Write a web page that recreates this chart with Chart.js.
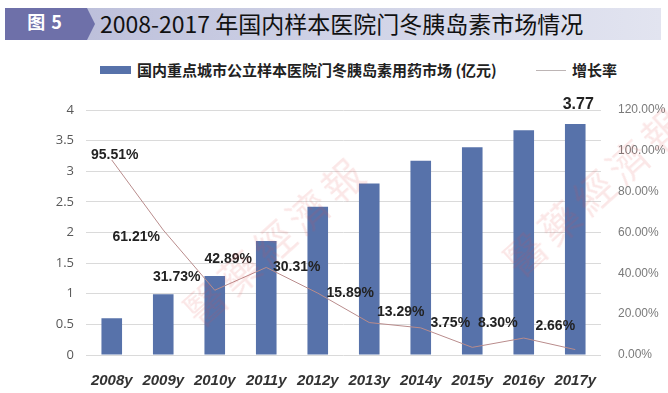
<!DOCTYPE html>
<html><head><meta charset="utf-8">
<script src="https://cdn.jsdelivr.net/npm/chart.js@4"></script>
<style>
body{margin:0;width:668px;height:393px;background:#fff;overflow:hidden;position:relative;font-family:"Liberation Sans",Arial,sans-serif}
#banner{position:absolute;left:5px;top:8px;width:656px;height:32px;background:linear-gradient(90deg,#b7bad7 0%,#cfd2e6 50%,#e2e4f0 100%)}
#tag{position:absolute;left:5px;top:8px;width:90px;height:32px;background:#6e70a9;clip-path:polygon(0 0,82px 0,90px 16px,82px 32px,0 32px)}
#tagtxt{position:absolute;left:5px;top:8px;width:80px;height:32px;line-height:32px;text-align:center;color:#fff;font:bold 18px "Noto Sans CJK SC",sans-serif;letter-spacing:1px}
#title{position:absolute;left:100px;top:6px;height:36px;line-height:36px;font:23px "Noto Sans CJK SC",sans-serif;color:#111;white-space:nowrap}
#legend{position:absolute;left:0;top:60px;width:668px;height:20px;font:bold 15px "Noto Sans CJK SC",sans-serif;color:#222}
.lg{position:absolute;top:0;height:20px;line-height:20px;white-space:nowrap}
#box{position:absolute;left:100px;top:6px;width:31px;height:8px;background:#5772aa}
#lline{position:absolute;left:536px;top:10px;width:30px;height:1px;background:#bdb5b5}
#wrap{position:absolute;left:0;top:90px;width:668px;height:303px}
.wm{position:absolute;font:40px "Noto Sans CJK TC",sans-serif;color:rgba(222,70,70,0.13);white-space:nowrap;transform-origin:center;pointer-events:none;letter-spacing:6px}
</style></head>
<body>
<div id="banner"></div>
<div id="tag"></div>
<div id="tagtxt">图 5</div>
<div id="title">2008-2017 年国内样本医院门冬胰岛素市场情况</div>
<div id="legend">
  <div id="box"></div><div class="lg" id="lg1" style="left:137px"></div>
  <div id="lline"></div><div class="lg" id="lg2" style="left:572px"></div>
</div>
<div id="wrap"><canvas id="c"></canvas></div>
<div class="wm" style="left:160px;top:210px;transform:rotate(-42deg)">醫藥經濟報</div>
<div class="wm" style="left:480px;top:160px;transform:rotate(-42deg)">醫藥經濟報</div>
<script>
const categories=['2008y','2009y','2010y','2011y','2012y','2013y','2014y','2015y','2016y','2017y'];
const marketValues=[0.60,0.99,1.29,1.86,2.42,2.80,3.17,3.39,3.67,3.77];
const growthRates=[95.51,61.21,31.73,42.89,30.31,15.89,13.29,3.75,8.30,2.66];
const barSeriesName='国内重点城市公立样本医院门冬胰岛素用药市场 (亿元)';
const lineSeriesName='增长率';
const leftAxisMax=4, leftAxisStep=0.5;
const rightAxisMax=120, rightAxisStep=20;

document.getElementById('lg1').textContent=barSeriesName;
document.getElementById('lg2').textContent=lineSeriesName;

// label placement offsets (style only)
const growthLabelOffsets=[[3,-5],[-27,7],[-38,-13],[-38,-8],[-21,-26],[-19,-29],[-20,-16],[-22,-24],[-26,-15],[-20,-23]];

const labelPlugin={
  id:'labels',
  afterDatasetsDraw(chart){
    const ctx=chart.ctx;
    ctx.save();
    ctx.textAlign='center';ctx.textBaseline='middle';
    ctx.fillStyle='#222';
    ctx.font='bold 14px "Liberation Sans", Arial, sans-serif';
    const lm=chart.getDatasetMeta(1);
    lm.data.forEach((p,i)=>{
      const o=growthLabelOffsets[i];
      ctx.fillText(growthRates[i].toFixed(2)+'%',p.x+o[0],p.y+o[1]);
    });
    const bm=chart.getDatasetMeta(0);
    const last=bm.data.length-1;
    ctx.font='bold 16px "Liberation Sans", Arial, sans-serif';
    ctx.fillText(marketValues[last].toFixed(2),bm.data[last].x+3,bm.data[last].y-19);
    ctx.restore();
  }
};

new Chart(document.getElementById('c'),{
  data:{
    labels:categories,
    datasets:[
      {type:'bar',label:barSeriesName,data:marketValues,backgroundColor:'#5772aa',yAxisID:'y',categoryPercentage:1,barPercentage:0.4,order:2},
      {type:'line',label:lineSeriesName,data:growthRates,borderColor:'#b98c8c',borderWidth:1,pointRadius:0,tension:0,yAxisID:'y1',order:1}
    ]
  },
  options:{
    responsive:true,maintainAspectRatio:false,animation:false,
    layout:{padding:{top:20,left:0,right:0,bottom:0}},
    plugins:{legend:{display:false},tooltip:{enabled:false}},
    scales:{
      x:{grid:{display:false},border:{display:false},
         ticks:{color:'#333',padding:9,font:{family:'"Liberation Sans", Arial, sans-serif',size:15,style:'italic',weight:'bold'}},
         afterFit(s){s.height=38;s.paddingLeft=0;s.paddingRight=0;}},
      y:{position:'left',min:0,max:leftAxisMax,
         ticks:{stepSize:leftAxisStep,padding:12,color:'#595959',font:{family:'"Open Sans", "Liberation Sans", sans-serif',size:13},callback:v=>String(+v.toFixed(1))},
         grid:{color:'#dadada',drawTicks:false,lineWidth:1},border:{display:false},
         afterFit(s){s.width=86;s.paddingTop=0;s.paddingBottom=0;}},
      y1:{position:'right',min:0,max:rightAxisMax,
         ticks:{stepSize:rightAxisStep,padding:17,color:'#7a7a7a',font:{family:'"Liberation Sans", Arial, sans-serif',size:12},callback:v=>v.toFixed(2)+'%'},
         grid:{display:false,drawTicks:false},border:{display:false},
         afterFit(s){s.width=67;s.paddingTop=0;s.paddingBottom=0;}}
    }
  },
  plugins:[labelPlugin]
});
</script>
</body></html>
